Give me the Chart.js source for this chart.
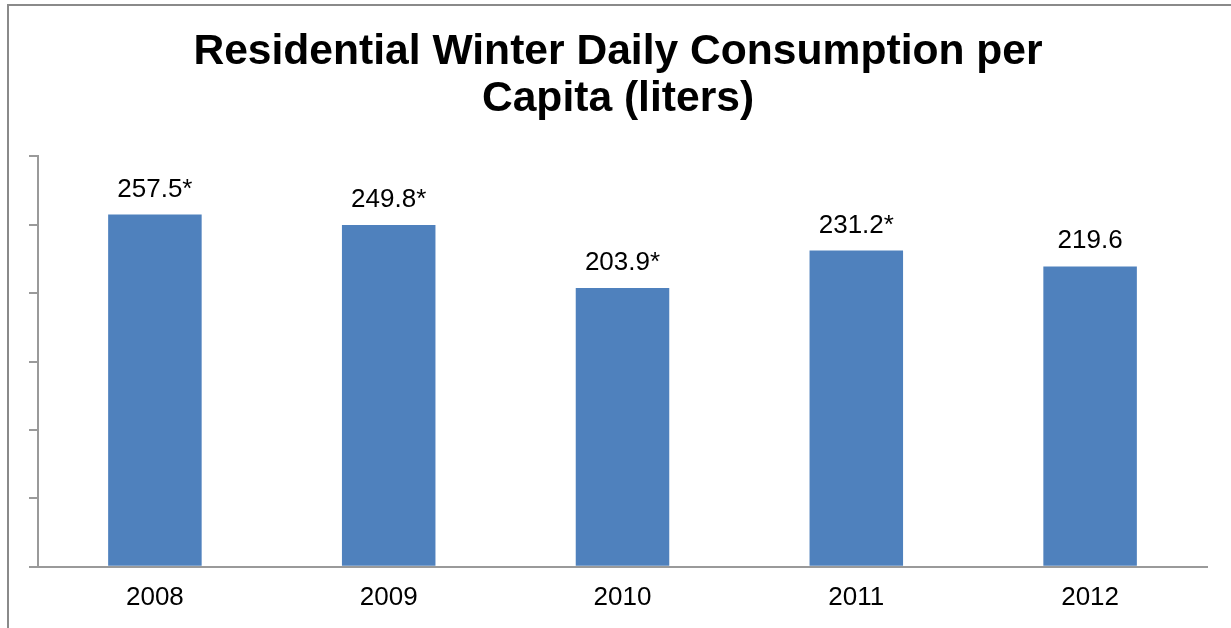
<!DOCTYPE html>
<html>
<head>
<meta charset="utf-8">
<script src="https://cdn.jsdelivr.net/npm/chart.js@4.4.1/dist/chart.umd.min.js"></script>
<style>
  html, body { margin: 0; padding: 0; background: #ffffff; overflow: hidden; }
  #frame { position: absolute; left: 7px; top: 4px; width: 1400px; height: 800px;
           border-left: 2px solid #8a8a8a; border-top: 2px solid #8a8a8a; }
  #wrap { position: absolute; left: 0; top: 0; width: 1231px; height: 628px; }
</style>
</head>
<body>
<div id="frame"></div>
<div id="wrap"><canvas id="c" width="1231" height="628"></canvas></div>
<script>
const categories = ['2008', '2009', '2010', '2011', '2012'];
const consumption = [257.5, 249.8, 203.9, 231.2, 219.6];
const valueLabels = ['257.5*', '249.8*', '203.9*', '231.2*', '219.6'];
const titleLines = ['Residential Winter Daily Consumption per', 'Capita (liters)'];
const yMin = 0, yMax = 300, yStep = 50;

const barLabels = {
  id: 'barLabels',
  afterDatasetsDraw(chart) {
    const ctx = chart.ctx;
    const meta = chart.getDatasetMeta(0);
    ctx.save();
    ctx.font = '26px "Liberation Sans", Arial, sans-serif';
    ctx.fillStyle = '#000000';
    ctx.textAlign = 'center';
    ctx.textBaseline = 'alphabetic';
    meta.data.forEach((bar, i) => {
      ctx.fillText(valueLabels[i], bar.x, bar.y - 18);
    });
    ctx.restore();
  }
};

new Chart(document.getElementById('c'), {
  type: 'bar',
  data: {
    labels: categories,
    datasets: [{
      data: consumption,
      backgroundColor: '#4F81BD',
      borderWidth: 0,
      barPercentage: 0.4,
      categoryPercentage: 1.0
    }]
  },
  options: {
    responsive: false,
    animation: false,
    devicePixelRatio: 1,
    layout: { padding: { left: 29, right: 24, top: 0, bottom: 0 } },
    plugins: {
      legend: { display: false },
      tooltip: { enabled: false },
      title: {
        display: true,
        text: titleLines,
        color: '#000000',
        font: { family: '"Liberation Sans", Arial, sans-serif', size: 42.6, weight: 'bold', lineHeight: 1.12 },
        padding: { top: 28, bottom: 33 }
      }
    },
    scales: {
      x: {
        grid: { display: false, drawTicks: false },
        border: { display: true, color: '#9a9a9a', width: 2 },
        ticks: {
          color: '#000000',
          padding: 15,
          font: { family: '"Liberation Sans", Arial, sans-serif', size: 26 }
        }
      },
      y: {
        min: yMin,
        max: yMax,
        ticks: { display: false, stepSize: yStep },
        grid: { display: true, drawOnChartArea: false, drawTicks: true, tickLength: 9, color: '#9a9a9a', lineWidth: 2 },
        border: { display: true, color: '#9a9a9a', width: 2 }
      }
    }
  },
  plugins: [barLabels]
});
</script>
</body>
</html>
